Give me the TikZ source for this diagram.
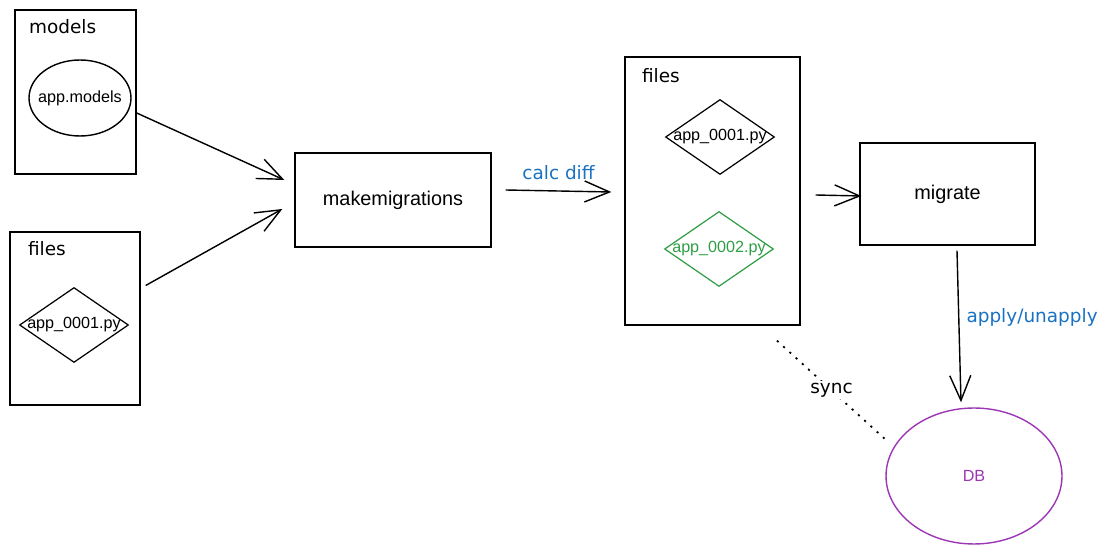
\documentclass[tikz,border=0pt]{standalone}
\usepackage{fontspec}
\setmainfont{Liberation Sans}
\newfontfamily\handfont{DejaVu Sans}
\usetikzlibrary{arrows.meta,shapes.geometric,positioning,calc}
\definecolor{handblue}{HTML}{1971C2}
\definecolor{filegreen}{HTML}{2F9E44}
\definecolor{dbpurple}{HTML}{9C36B5}
\tikzset{
  box/.style={draw,line width=0.8pt,inner sep=0pt},
  bigtext/.style={font=\fontsize{11.3}{13}\selectfont},
  smalltext/.style={font=\fontsize{9.2}{11}\selectfont},
  hand/.style={font=\handfont\fontsize{10.5}{12}\selectfont,inner sep=1pt},
  filenode/.style={draw,diamond,inner sep=0pt,line width=0.7pt,
    minimum width=2.18cm,minimum height=1.5cm},
  flow/.style={line width=0.8pt,
    -{Straight Barb[length=5mm,width=4.2mm,line width=0.8pt]}}
}
\begin{document}
\begin{tikzpicture}[x=0.02cm,y=-0.02cm]
\useasboundingbox (0,0) rectangle (1099,553);

% left column
\node[box,minimum width=2.42cm,minimum height=3.28cm] (models) at (75.5,92) {};
\node[hand,anchor=west] at (27,27) {models};
\node[draw,ellipse,line width=0.8pt,inner sep=0pt,minimum width=2.04cm,minimum height=1.52cm,
  label={[smalltext]center:app.models}] (appmodels) at (80,98) {};

\node[box,minimum width=2.6cm,minimum height=3.46cm] (oldfiles) at (75,318.5) {};
\node[hand,anchor=west] at (26,249) {files};
\node[filenode,label={[smalltext]center:app\_0001.py}] (oldmig) at (74,325) {};

% middle
\node[box,minimum width=3.92cm,minimum height=1.88cm,bigtext] (make) at (393,200) {makemigrations};

\node[box,minimum width=3.5cm,minimum height=5.36cm] (newfiles) at (712.5,191) {};
\node[hand,anchor=west] at (640,76) {files};
\node[filenode,label={[smalltext]center:app\_0001.py}] (mig1) at (720,137) {};
\node[filenode,draw=filegreen,
  label={[smalltext,text=filegreen]center:app\_0002.py}] (mig2) at (719,249) {};

% right
\node[box,minimum width=3.5cm,minimum height=2.04cm,bigtext] (migrate) at (947.5,194) {migrate};
\node[draw=dbpurple,ellipse,line width=0.8pt,inner sep=0pt,minimum width=3.52cm,minimum height=2.72cm,
  label={[smalltext,text=dbpurple]center:DB}] (db) at (974,476) {};

% connectors
\draw[flow] ($(models.east)+(0,21)$) -- ($(make.west)+(-10,-20)$);
\draw[flow] ($(oldfiles.east)+(5,-33)$) -- ($(make.west)+(-12,9)$);
\draw[flow] ($(make.east)+(14,-10)$) -- node[hand,text=handblue,above=5pt] {calc diff}
  ($(newfiles.west)+(-13,1)$);
\draw[flow] ($(newfiles.east)+(15,4)$) -- ($(migrate.west)+(2,2)$);
\draw[flow] ($(migrate.south)+(9.5,5)$) -- node[hand,text=handblue,right=3pt,pos=0.44] {apply/unapply}
  ($(db.north)+(-13,-5)$);
\draw[line width=1pt,dash pattern=on 1.2pt off 3.6pt] ($(newfiles.south)+(64.5,15)$)
  -- node[hand,fill=white] {sync} ($(db.center)+(-88,-36)$);
\end{tikzpicture}
\end{document}
